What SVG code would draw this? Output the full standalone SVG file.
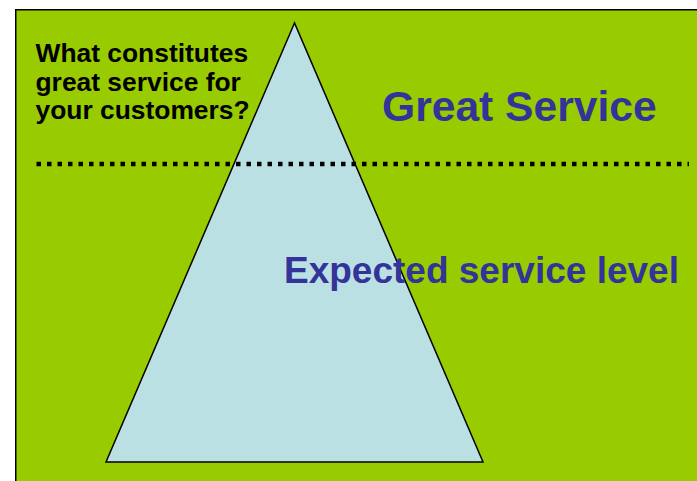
<svg xmlns="http://www.w3.org/2000/svg" width="697" height="481" viewBox="0 0 697 481">
  <style>
    .panel { fill: #99CC00; stroke: #000000; stroke-width: 1.5; }
    .pyramid { fill: #BBE0E3; stroke: #000000; stroke-width: 1.5; stroke-linejoin: miter; }
    .divider { fill: none; stroke: #000000; stroke-width: 4.5; stroke-dasharray: 4.5 6; }
    .question { font-family: "Liberation Sans", Arial, sans-serif; font-weight: bold; font-size: 26.4px; fill: #000000; }
    .level { font-family: "Liberation Sans", Arial, sans-serif; font-weight: bold; fill: #333399; }
  </style>

  <rect width="697" height="481" fill="#FFFFFF"/>

  <!-- green slide panel, running off the right and bottom edges -->
  <g id="panel">
    <rect class="panel" x="15.75" y="9.75" width="700" height="500"/>
  </g>

  <!-- service pyramid -->
  <g id="pyramid">
    <polygon class="pyramid" points="294.5,23 106,462 483,462"/>
  </g>

  <!-- boundary between expected and great service -->
  <g id="divider">
    <line class="divider" x1="36.5" y1="164" x2="689" y2="164"/>
  </g>

  <g id="question">
    <text class="question" x="35.5" y="62">What constitutes</text>
    <text class="question" x="35.5" y="90.5">great service for</text>
    <text class="question" x="35.5" y="119">your customers?</text>
  </g>

  <g id="great-service">
    <text class="level" x="382" y="120.5" font-size="42.6">Great Service</text>
  </g>

  <g id="expected-service">
    <text class="level" x="284" y="282.5" font-size="37">Expected service level</text>
  </g>
</svg>
